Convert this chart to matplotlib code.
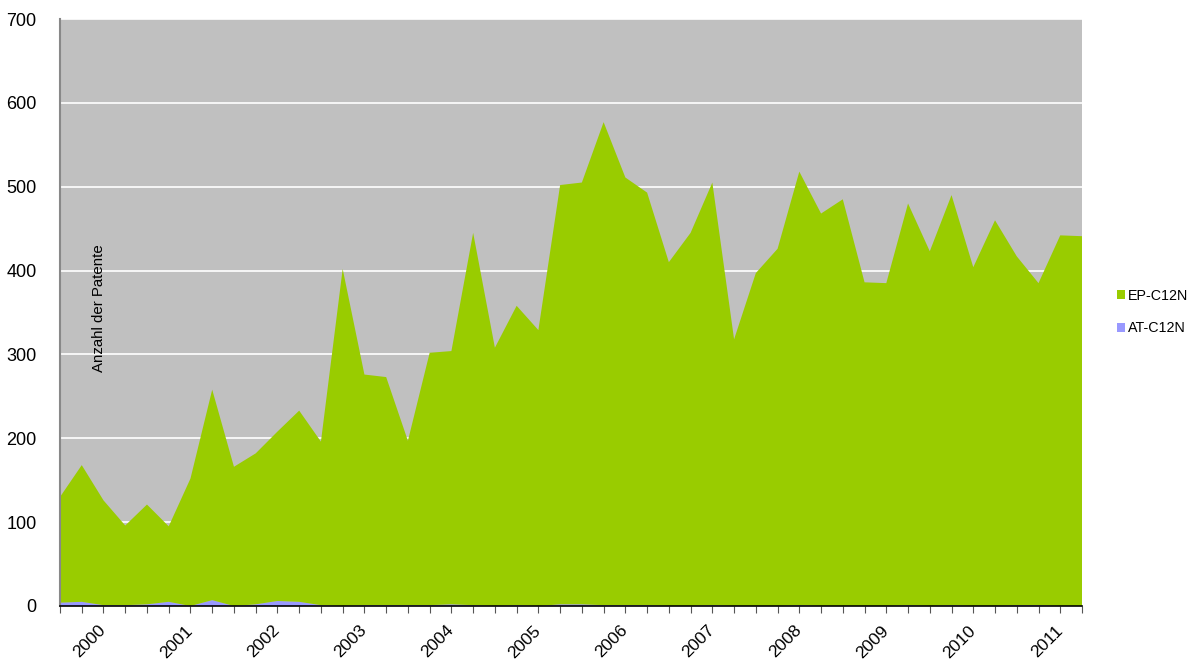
import numpy as np
import matplotlib.pyplot as plt

plt.rcParams['font.family'] = ['Liberation Sans', 'DejaVu Sans']

# quarterly counts 2000 Q1 .. 2011 Q4
years = list(range(2000, 2012))
at_c12n = [4, 5, 1, 1, 2, 5, 0, 7, 0, 2, 6, 5, 1, 0, 1, 1,
           1, 1, 2, 1, 0, 1, 0, 2, 2, 1, 1, 1, 0, 0, 1, 0,
           0, 0, 1, 0, 0, 0, 0, 1, 0, 1, 0, 0, 1, 1, 0, 0]
total = [130, 168, 126, 96, 121, 95, 152, 258, 166, 182, 208, 233, 196, 402, 276, 273,
         197, 302, 304, 445, 308, 358, 329, 502, 505, 577, 511, 493, 410, 445, 505, 318,
         397, 426, 518, 468, 485, 386, 385, 480, 423, 490, 404, 460, 417, 385, 442, 441]
ep_c12n = [t - a for t, a in zip(total, at_c12n)]

x = np.arange(len(total))

fig = plt.figure(figsize=(11.89, 6.59), dpi=100)
ax = fig.add_axes([60 / 1189, 1 - 606 / 659, (1082 - 60) / 1189, (606 - 19) / 659])
ax.set_facecolor('#C0C0C0')

ax.stackplot(x, at_c12n, ep_c12n, colors=['#9999FF', '#99CC00'],
             labels=['AT-C12N', 'EP-C12N'], zorder=2)

ax.set_xlim(0, len(total) - 1)
ax.set_ylim(0, 700)
ax.set_yticks(range(0, 701, 100))
ax.yaxis.grid(True, color='white', linewidth=1.2, zorder=1)
ax.set_axisbelow(True)
ax.tick_params(axis='y', length=0, labelsize=13, pad=17)

ax.set_xticks(x)
ax.set_xticklabels([''] * len(x))
ax.tick_params(axis='x', length=5, color='#555555', direction='out')
for i, yr in enumerate(years):
    ax.text(1.75 + 4 * i, -20, str(yr), rotation=45, ha='right', va='top',
            rotation_mode='anchor', fontsize=12.5, transform=ax.transData,
            clip_on=False)

for side in ['top', 'right']:
    ax.spines[side].set_visible(False)
ax.spines['left'].set_color('#888888')
ax.spines['left'].set_linewidth(1.5)
ax.spines['bottom'].set_color('black')
ax.spines['bottom'].set_linewidth(1.2)
ax.spines['bottom'].set_zorder(3)

ax.text(1.8, 355, 'Anzahl der Patente', rotation=90, ha='center', va='center',
        fontsize=10.8, zorder=4)

handles, labels = ax.get_legend_handles_labels()
leg = fig.legend(handles[::-1], labels[::-1], loc='center left',
                 bbox_to_anchor=(1104 / 1189, 1 - 312 / 659), frameon=False,
                 fontsize=10.3, handlelength=0.6, handleheight=0.6,
                 handletextpad=0.2, labelspacing=1.3)

fig.savefig('out.png', dpi=100)
